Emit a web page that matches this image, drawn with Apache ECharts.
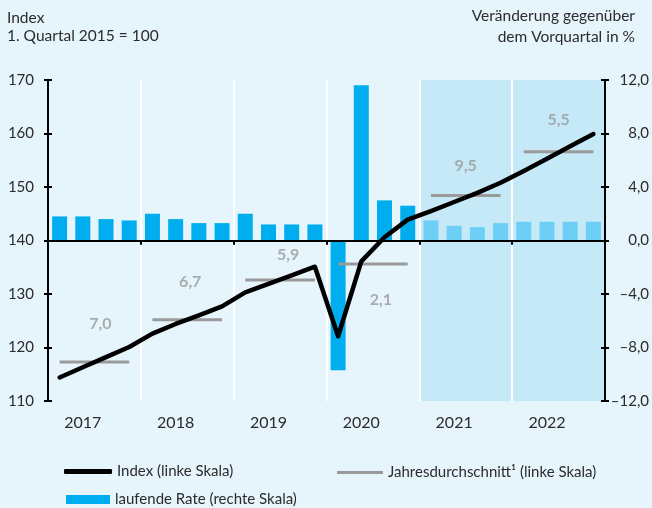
<!DOCTYPE html>
<html>
<head>
<meta charset="utf-8">
<script src="https://cdn.jsdelivr.net/npm/echarts@6/dist/echarts.min.js"></script>
<style>
  html, body { margin: 0; padding: 0; background: #e6f4fc; overflow: hidden; }
  #chart { width: 652px; height: 508px; }
</style>
</head>
<body>
<div id="chart"></div>
<script>
var quarters = ['Q1 2017','Q2 2017','Q3 2017','Q4 2017',
                'Q1 2018','Q2 2018','Q3 2018','Q4 2018',
                'Q1 2019','Q2 2019','Q3 2019','Q4 2019',
                'Q1 2020','Q2 2020','Q3 2020','Q4 2020',
                'Q1 2021','Q2 2021','Q3 2021','Q4 2021',
                'Q1 2022','Q2 2022','Q3 2022','Q4 2022'];
var years = ['2017','2018','2019','2020','2021','2022'];

// Index, 1. Quartal 2015 = 100 (linke Skala)
var indexValues = [114.4, 116.3, 118.2, 120.1,
                   122.6, 124.4, 126.0, 127.7,
                   130.3, 131.9, 133.5, 135.1,
                   122.1, 136.1, 140.6, 143.9,
                   145.5, 147.2, 148.9, 150.8,
                   153.0, 155.3, 157.6, 159.9];
// Veränderung gegenüber Vorquartal in % (rechte Skala)
var rateValues = [1.8, 1.8, 1.6, 1.5,
                  2.0, 1.6, 1.3, 1.3,
                  2.0, 1.2, 1.2, 1.2,
                  -9.7, 11.6, 3.0, 2.6,
                  1.5, 1.1, 1.0, 1.3,
                  1.4, 1.4, 1.4, 1.4];
// Jahresdurchschnitt (Niveau) und Veränderungsrate als Beschriftung
var avgValues = [117.3, 125.2, 132.6, 135.6, 148.4, 156.6];
var avgLabels = ['7,0', '6,7', '5,9', '2,1', '9,5', '5,5'];

var forecastStart = 16;   // ab 1. Quartal 2021 Prognose
var leftTicks = [110, 170, 10];
var rightTicks = [-12, 12, 4];

// Verschiebung der Jahresraten-Beschriftung gegenüber der Linienmitte (px)
var avgLabelOffsets = [[6, -38], [3, -38], [8, -25], [8, 36], [0, -30], [0, -32]];

var fontFamily = 'Lato, "Open Sans", sans-serif';
var textColor = '#2b2b2b';
var avgColor = '#9a9a9a';

var chart = echarts.init(document.getElementById('chart'));

var avgName = 'Jahresdurchschnitt\u00b9 (linke Skala)';
var avgSeries = avgValues.map(function (v, y) {
    return {
        name: avgName,
        type: 'line',
        xAxisIndex: 1,
        yAxisIndex: 0,
        symbol: 'none',
        z: 4,
        silent: true,
        lineStyle: { color: avgColor, width: 3 },
        itemStyle: { color: avgColor },
        data: [[y * 4 + 0.5, v], [y * 4 + 3.5, v]]
    };
});

// Beschriftung der Jahresdurchschnitte (Veränderungsrate)
var avgLabelSeries = {
    name: 'Rate Jahresdurchschnitt',
    type: 'scatter',
    xAxisIndex: 1,
    yAxisIndex: 0,
    symbolSize: 2,
    itemStyle: { color: 'rgba(0,0,0,0)' },
    silent: true,
    z: 4,
    labelLayout: { hideOverlap: false, moveOverlap: false },
    data: avgValues.map(function (v, y) {
        return {
            value: [y * 4 + 2, v],
            label: {
                show: true,
                position: [1 + avgLabelOffsets[y][0], 1 + avgLabelOffsets[y][1]],
                align: 'center',
                verticalAlign: 'middle',
                formatter: avgLabels[y],
                color: avgColor,
                fontFamily: fontFamily,
                fontWeight: 'bold',
                fontSize: 16
            }
        };
    })
};

var headerStyle = { fontSize: 15.5, fill: textColor, fontFamily: fontFamily };

var option = {
    backgroundColor: '#e6f4fc',
    animation: false,
    textStyle: { fontFamily: fontFamily },
    legend: [{
        data: ['Index (linke Skala)'],
        left: 64, top: 464,
        padding: 0,
        icon: 'roundRect',
        itemWidth: 48, itemHeight: 5,
        textStyle: { fontSize: 15, color: textColor, fontFamily: fontFamily }
    }, {
        data: [avgName],
        left: 337, top: 465,
        padding: 0,
        icon: 'rect',
        itemWidth: 46, itemHeight: 3,
        textStyle: { fontSize: 15, color: textColor, fontFamily: fontFamily }
    }, {
        data: ['laufende Rate (rechte Skala)'],
        left: 66, top: 492,
        padding: 0,
        icon: 'rect',
        itemWidth: 44, itemHeight: 9,
        textStyle: { fontSize: 15, color: textColor, fontFamily: fontFamily }
    }],
    grid: { left: 48, right: 47, top: 80, bottom: 107, containLabel: false, outerBoundsMode: 'none' },
    xAxis: [{
        // Quartale, Nulllinie der rechten Skala
        type: 'category',
        data: quarters,
        boundaryGap: true,
        z: 6,
        axisLine: { onZero: true, onZeroAxisIndex: 1, lineStyle: { color: '#000', width: 2 } },
        axisTick: { show: true, interval: 3, length: 4, lineStyle: { color: '#000', width: 2 } },
        axisLabel: { show: false },
        splitLine: { show: false }
    }, {
        // Jahresraster (Trennlinien, Ticks nach oben)
        type: 'value',
        min: 0, max: 24, interval: 4,
        z: 2,
        axisLine: { show: false, onZero: true, onZeroAxisIndex: 1 },
        axisTick: { show: true, inside: true, length: 4, lineStyle: { color: '#000', width: 2 } },
        axisLabel: { show: false },
        splitLine: { show: true, lineStyle: { color: '#ffffff', width: 2 } }
    }, {
        // Jahresbeschriftung unten
        type: 'category',
        data: quarters,
        position: 'bottom',
        axisLine: { show: false, onZero: false },
        axisTick: { show: false },
        axisLabel: {
            show: true,
            interval: function (i) { return i % 4 === 1; },
            formatter: function (v, i) { return years[Math.floor(i / 4)]; },
            fontSize: 16, color: textColor, margin: 14, fontFamily: fontFamily
        },
        splitLine: { show: false }
    }],
    yAxis: [{
        type: 'value',
        position: 'left',
        min: leftTicks[0], max: leftTicks[1], interval: leftTicks[2],
        z: 7,
        axisLine: { show: true, lineStyle: { color: '#000', width: 2 } },
        axisTick: { show: true, length: 4, lineStyle: { color: '#000', width: 2 } },
        axisLabel: { fontSize: 15, color: textColor, margin: 14, fontFamily: fontFamily },
        splitLine: { show: false }
    }, {
        type: 'value',
        position: 'right',
        min: rightTicks[0], max: rightTicks[1], interval: rightTicks[2],
        z: 7,
        axisLine: { show: true, onZero: false, lineStyle: { color: '#000', width: 2 } },
        axisTick: { show: true, length: 4, lineStyle: { color: '#000', width: 2 } },
        axisLabel: {
            fontSize: 15, color: textColor, margin: 44, align: 'right', fontFamily: fontFamily,
            formatter: function (v) {
                return (v < 0 ? '\u2013' : '') + Math.abs(v).toFixed(1).replace('.', ',');
            }
        },
        splitLine: { show: false }
    }, {
        type: 'value',
        position: 'left',
        min: leftTicks[0], max: leftTicks[1], interval: leftTicks[2],
        z: 7,
        axisLine: { show: false },
        axisTick: { show: true, inside: true, length: 4, lineStyle: { color: '#000', width: 2 } },
        axisLabel: { show: false },
        splitLine: { show: false }
    }, {
        type: 'value',
        position: 'right',
        min: rightTicks[0], max: rightTicks[1], interval: rightTicks[2],
        z: 7,
        axisLine: { show: false, onZero: false },
        axisTick: { show: true, inside: true, length: 4, lineStyle: { color: '#000', width: 2 } },
        axisLabel: { show: false },
        splitLine: { show: false }
    }],
    graphic: [{
        type: 'text', left: 7, top: 10,
        style: Object.assign({ text: 'Index' }, headerStyle)
    }, {
        type: 'text', left: 7, top: 28,
        style: Object.assign({ text: '1. Quartal 2015 = 100' }, headerStyle)
    }, {
        type: 'text', right: 17, top: 8,
        style: Object.assign({ text: 'Ver\u00e4nderung gegen\u00fcber' }, headerStyle)
    }, {
        type: 'text', right: 17, top: 29,
        style: Object.assign({ text: 'dem Vorquartal in %' }, headerStyle)
    }, {
        type: 'text',
        right: 65, top: 363,
        style: { text: 'Prognose', fontSize: 16, fill: '#4cc2f1', fontFamily: fontFamily }
    }],
    series: [{
        name: 'Prognosezeitraum',
        type: 'line',
        xAxisIndex: 1,
        yAxisIndex: 0,
        data: [],
        z: 0,
        silent: true,
        markArea: {
            silent: true,
            z: 0,
            itemStyle: { color: '#c6e9f8' },
            data: [[{ xAxis: forecastStart }, { xAxis: quarters.length }]]
        }
    }, {
        name: 'laufende Rate (rechte Skala)',
        type: 'bar',
        xAxisIndex: 0,
        yAxisIndex: 1,
        barWidth: 15,
        z: 3,
        itemStyle: { color: '#00aeef' },
        data: rateValues.map(function (v, i) {
            return i >= forecastStart ? { value: v, itemStyle: { color: '#6dcff6' } } : v;
        })
    }].concat(avgSeries).concat([avgLabelSeries, {
        name: 'Index (linke Skala)',
        type: 'line',
        xAxisIndex: 0,
        yAxisIndex: 0,
        symbol: 'none',
        z: 5,
        lineStyle: { color: '#000', width: 4.5, join: 'round', cap: 'round' },
        itemStyle: { color: '#000' },
        data: indexValues
    }])
};

chart.setOption(option);
</script>
</body>
</html>
